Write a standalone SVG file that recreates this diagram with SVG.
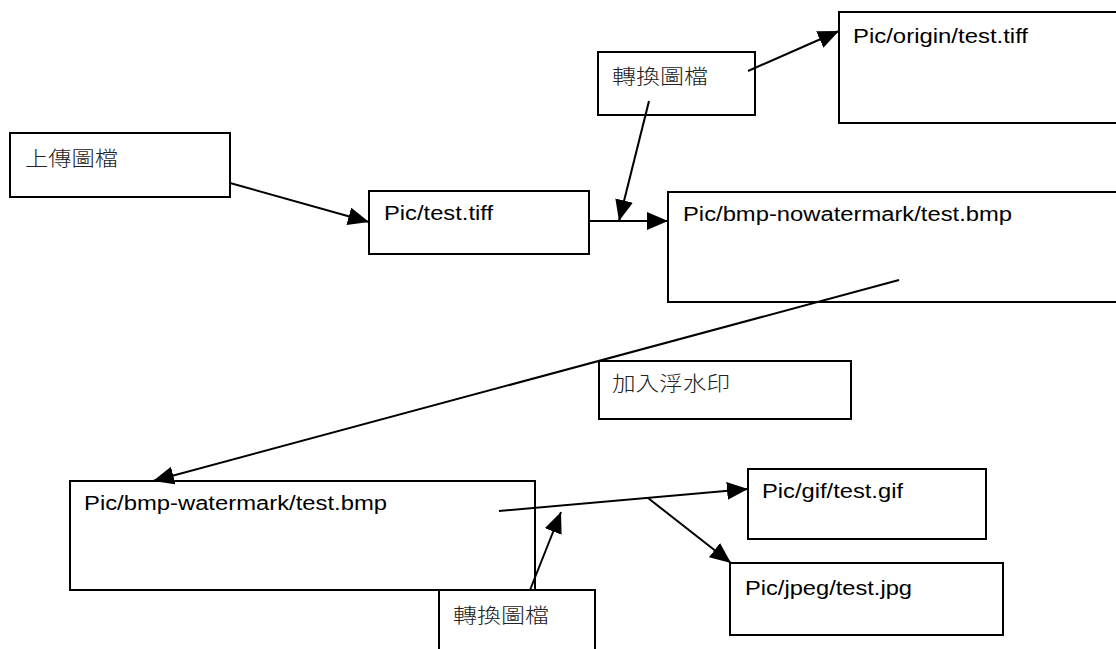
<svg xmlns="http://www.w3.org/2000/svg" width="1116" height="649" viewBox="0 0 1116 649">
  <style>
    .box { fill: #ffffff; stroke: #000000; stroke-width: 2; }
    .lat { font-family: "Liberation Sans", Arial, sans-serif; font-size: 20px; fill: #000000; }
    .cjk { font-family: "Noto Sans CJK TC", "Noto Sans CJK SC", sans-serif; font-size: 20px; font-weight: 300; fill: #222222; }
    .conn { stroke: #000000; stroke-width: 2; fill: none; marker-end: url(#arrow); }
  </style>
  <defs>
    <marker id="arrow" markerUnits="userSpaceOnUse" markerWidth="22" markerHeight="20" refX="21" refY="9" orient="auto">
      <path d="M0,0 L21,9 L0,18 z" fill="#000000"/>
    </marker>
  </defs>

  <rect width="1116" height="649" fill="#ffffff"/>

  <g id="upload">
    <rect class="box" x="10" y="133" width="220" height="64"/>
    <text class="cjk" x="25" y="166" textLength="93" lengthAdjust="spacingAndGlyphs">上傳圖檔</text>
  </g>

  <g id="pic-test-tiff">
    <rect class="box" x="369" y="191" width="220" height="63"/>
    <text class="lat" x="384" y="220" textLength="109" lengthAdjust="spacingAndGlyphs">Pic/test.tiff</text>
  </g>

  <g id="convert-top">
    <rect class="box" x="598" y="52" width="157" height="63"/>
    <text class="cjk" x="612" y="84" textLength="96" lengthAdjust="spacingAndGlyphs">轉換圖檔</text>
  </g>

  <g id="pic-origin">
    <rect class="box" x="839" y="12" width="300" height="111"/>
    <text class="lat" x="853" y="43" textLength="175" lengthAdjust="spacingAndGlyphs">Pic/origin/test.tiff</text>
  </g>

  <g id="bmp-nowatermark">
    <rect class="box" x="668" y="192" width="500" height="110"/>
    <text class="lat" x="683" y="221" textLength="329" lengthAdjust="spacingAndGlyphs">Pic/bmp-nowatermark/test.bmp</text>
  </g>

  <g id="add-watermark">
    <rect class="box" x="599" y="361" width="252" height="58"/>
    <text class="cjk" x="612" y="391" textLength="118" lengthAdjust="spacingAndGlyphs">加入浮水印</text>
  </g>

  <g id="bmp-watermark">
    <rect class="box" x="70" y="481" width="465" height="109"/>
    <text class="lat" x="84" y="510" textLength="303" lengthAdjust="spacingAndGlyphs">Pic/bmp-watermark/test.bmp</text>
  </g>

  <g id="convert-bottom">
    <rect class="box" x="439" y="590" width="156" height="80"/>
    <text class="cjk" x="453" y="623" textLength="96" lengthAdjust="spacingAndGlyphs">轉換圖檔</text>
  </g>

  <g id="pic-gif">
    <rect class="box" x="748" y="469" width="238" height="70"/>
    <text class="lat" x="762" y="498" textLength="141" lengthAdjust="spacingAndGlyphs">Pic/gif/test.gif</text>
  </g>

  <g id="pic-jpeg">
    <rect class="box" x="730" y="563" width="273" height="72"/>
    <text class="lat" x="745" y="595" textLength="167" lengthAdjust="spacingAndGlyphs">Pic/jpeg/test.jpg</text>
  </g>

  <g id="connectors">
    <line class="conn" x1="230" y1="183" x2="369" y2="222"/>
    <line class="conn" x1="649" y1="101" x2="619" y2="221"/>
    <line class="conn" x1="589" y1="221" x2="668" y2="221"/>
    <line class="conn" x1="748" y1="71" x2="839" y2="31"/>
    <line class="conn" x1="899" y1="280" x2="153" y2="481"/>
    <line class="conn" x1="499" y1="511" x2="748" y2="489"/>
    <line class="conn" x1="648" y1="498" x2="731" y2="563"/>
    <line class="conn" x1="530" y1="590" x2="561" y2="512"/>
  </g>
</svg>
